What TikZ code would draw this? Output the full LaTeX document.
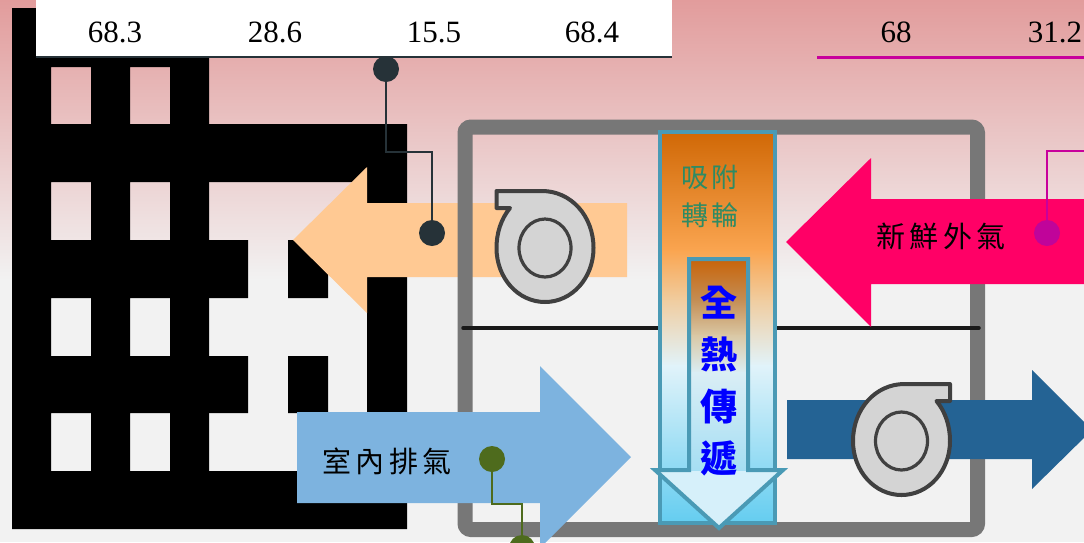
\documentclass[tikz,border=0pt]{standalone}
\usepackage{fontspec}
\setmainfont{Liberation Serif}
\newfontfamily\cjk{Noto Sans CJK TC}
\newfontfamily\cjksp[LetterSpace=14]{Noto Sans CJK TC}
\newfontfamily\cjkwide[LetterSpace=10]{Noto Sans CJK TC}
\usetikzlibrary{calc}

\definecolor{bgpink}{RGB}{226,156,156}
\definecolor{bglight}{RGB}{242,242,242}
\definecolor{slate}{RGB}{38,50,56}
\definecolor{magline}{RGB}{200,0,156}
\definecolor{magdot}{RGB}{192,4,154}
\definecolor{olivedot}{RGB}{78,107,29}
\definecolor{peach}{RGB}{255,201,147}
\definecolor{skyarrow}{RGB}{125,179,223}
\definecolor{hotpink}{RGB}{255,0,102}
\definecolor{navyarrow}{RGB}{36,99,148}
\definecolor{boxgray}{RGB}{119,119,119}
\definecolor{fanfill}{RGB}{212,212,212}
\definecolor{fanline}{RGB}{64,64,64}
\definecolor{wheelrim}{RGB}{74,154,181}
\definecolor{wheeltext}{RGB}{46,139,100}
% wheel column gradient stops
\definecolor{wa}{RGB}{208,104,6}
\definecolor{wb}{RGB}{250,165,80}
\definecolor{wc}{RGB}{240,205,160}
\definecolor{wd}{RGB}{225,243,250}
\definecolor{we}{RGB}{100,205,240}
% inner arrow gradient stops
\definecolor{ia}{RGB}{200,100,10}
\definecolor{ib}{RGB}{196,142,85}
\definecolor{ic}{RGB}{218,200,165}
\definecolor{id}{RGB}{218,238,245}
\definecolor{ie}{RGB}{165,222,243}
\definecolor{headfill}{RGB}{214,240,250}

\tikzset{
  numtxt/.style={font=\fontsize{31}{31}\selectfont, inner sep=0pt},
  flowtxt/.style={font=\cjksp\fontsize{29}{29}\selectfont, inner sep=0pt},
  dotnode/.style={circle, minimum size=26pt, inner sep=0pt},
  fan/.pic={
    \filldraw[fanline, fill=fanfill, line width=4pt, line join=round]
      (48.5,-57) -- (48.5,-40) -- (35,-40)
      .. controls (44,-29) and (48.5,-15) .. (48.5,0)
      .. controls (48.5,30) and (27,54) .. (0,54)
      .. controls (-27,54) and (-48.5,30) .. (-48.5,0)
      .. controls (-48.5,-32) and (-26,-57) .. (3,-57) -- cycle;
    \draw[fanline, line width=3.2pt] (0,0) ellipse [x radius=26, y radius=29];
  }
}

\begin{document}
\begin{tikzpicture}[x=1pt, y=-1pt]
\useasboundingbox (0,0) rectangle (1084,542);
\clip (0,0) rectangle (1084,542);

% background
\fill[bglight] (0,0) rectangle (1084,542);
\fill[top color=bgpink, bottom color=bglight] (0,0) rectangle (1084,280);

% building
\fill[black, even odd rule] (12,8) rectangle (209,529)
  (51,67) rectangle (91,124) (130,67) rectangle (170,124)
  (51,182) rectangle (91,240) (130,182) rectangle (170,240)
  (51,298) rectangle (91,356) (130,298) rectangle (170,356)
  (51,413) rectangle (91,471) (130,413) rectangle (170,471);
\fill[black] (209,124) rectangle (407,182)
  (367,124) rectangle (407,529)
  (209,471) rectangle (407,529)
  (209,240) rectangle (248,298)
  (209,356) rectangle (248,413)
  (288,240) rectangle (328,298)
  (288,356) rectangle (328,413);

% value bars
\fill[white] (36,0) rectangle (672,57);
\draw[slate, line width=2.5pt] (36,57) -- (672,57);
\node[numtxt] (v1) at (115,32) {68.3};
\node[numtxt] (v2) at (275,32) {28.6};
\node[numtxt] (v3) at (434,32) {15.5};
\node[numtxt] (v4) at (592,32) {68.4};
\draw[magline, line width=3pt] (817,57) -- (1084,57);
\node[numtxt] (v5) at (896,32) {68};
\node[numtxt] (v6) at (1055,32) {31.2};

% supply air to the room
\fill[peach] (293,240) -- (367,167) -- (367,203) -- (627,203) -- (627,277)
  -- (367,277) -- (367,313) -- cycle;

% unit casing and partition
\draw[boxgray, line width=15pt, rounded corners=6pt] (465,127) rectangle (977.5,529.5);
\draw[black!90, line width=3.5pt, line cap=round] (463,328) -- (979,328);

% exhaust from the room
\fill[skyarrow] (297,412) -- (540,412) -- (540,366) -- (631,457) -- (540,548)
  -- (540,503) -- (297,503) -- cycle;
% fresh outdoor air
\fill[hotpink] (786,242) -- (871,158) -- (871,199) -- (1090,199) -- (1090,284)
  -- (871,284) -- (871,327) -- cycle;
% discharge to outside
\fill[navyarrow] (787,400) -- (1032,400) -- (1032,370) -- (1092,430) -- (1032,489)
  -- (1032,459) -- (787,459) -- cycle;

% fans
\pic[xscale=-1] at (545,248) {fan};
\pic at (901.5,441) {fan};

% heat wheel column
\fill[top color=wa, bottom color=wb] (660,132) rectangle (775,251);
\fill[top color=wb, bottom color=wc] (660,250) rectangle (775,301);
\fill[top color=wc, bottom color=wd] (660,300) rectangle (775,366);
\fill[top color=wd, bottom color=we] (660,365) rectangle (775,523);
\draw[wheelrim, line width=4pt] (660,132) rectangle (775,523);

% heat transfer arrow
\fill[headfill] (689,259) -- (748,259) -- (748,470) -- (783,470) -- (719,528)
  -- (655,470) -- (689,470) -- cycle;
\fill[top color=ia, bottom color=ib] (689,259) rectangle (748,301);
\fill[top color=ib, bottom color=ic] (689,300) rectangle (748,336);
\fill[top color=ic, bottom color=id] (689,335) rectangle (748,373);
\fill[top color=id, bottom color=ie] (689,372) rectangle (748,470);
\draw[wheelrim, line width=4pt, line join=miter] (689,259) -- (748,259) -- (748,470)
  -- (783,470) -- (719,528) -- (655,470) -- (689,470) -- cycle;

% labels
\node[font=\cjkwide\fontsize{27}{38}\selectfont, text=wheeltext, align=center, inner sep=0pt]
  (wheel) at (710,196) {吸附\\轉輪};
\node[font=\cjk\bfseries\fontsize{37}{52}\selectfont, text=blue, align=center, inner sep=0pt]
  (heat) at (719,381) {全\\熱\\傳\\遞};
\node[flowtxt] (fresh) at (941,236) {新鮮外氣};
\node[flowtxt] (exhaust) at (387,461) {室內排氣};

% connectors
\node[dotnode, fill=slate] (ds1) at (386,69) {};
\node[dotnode, fill=slate] (ds2) at (432,233) {};
\coordinate (dsbend) at (432,152);
\draw[slate, line width=2.5pt] (ds1.center) |- (dsbend) -- (ds2.center);

\coordinate (mend) at (1090,151);
\draw[magline, line width=2.5pt] (1047,233) |- (mend);
\node[dotnode, fill=magdot] (dm) at (1047,233) {};

\node[dotnode, fill=olivedot] (dg2) at (522,548) {};
\coordinate (dgbend) at (522,504);
\draw[olivedot, line width=2.5pt] (492,459) |- (dgbend) -- (dg2.center);
\node[dotnode, fill=olivedot] (dg1) at (492,459) {};
\end{tikzpicture}
\end{document}
